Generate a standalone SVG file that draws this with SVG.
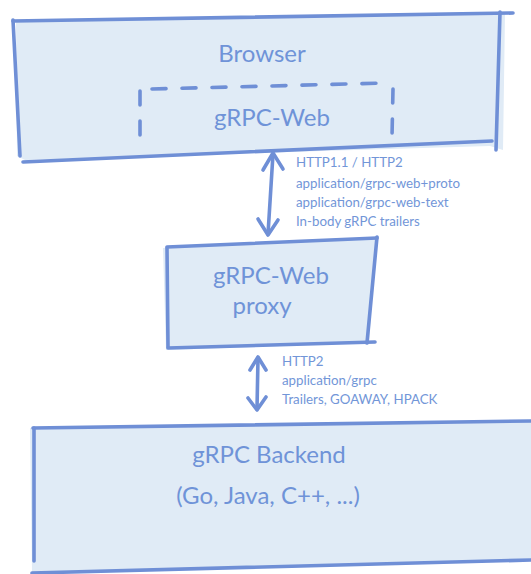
<svg xmlns="http://www.w3.org/2000/svg" width="531" height="574" viewBox="0 0 531 574">
<style>
.fill{fill:#e0ebf6;stroke:none}
.ln{fill:none;stroke:#6f8fd6;stroke-width:3.6;stroke-linecap:round;stroke-linejoin:round}
.dash{fill:none;stroke:#6f8fd6;stroke-width:3.6;stroke-linecap:round;stroke-dasharray:14 16}
.big{font-family:Lato,"DejaVu Sans",sans-serif;font-size:24px;fill:#6f93d8;text-anchor:middle}
.sm{font-family:Lato,"DejaVu Sans",sans-serif;font-size:13.3px;fill:#7296d8}
</style>
<g id="browser">
<path class="fill" d="M16,20 L505,14 L503,150 L490,146 L25,160 L17,156 Z"/>
<path class="ln" d="M13,21 L513,13"/>
<path class="ln" d="M13,20 L20,156"/>
<path class="ln" d="M500,12 L496,150"/>
<path class="ln" d="M23,162 L492,141"/>
<text class="big" x="262" y="62">Browser</text>
</g>
<g id="grpcweb">
<path class="dash" d="M152,89 L387,83"/>
<path class="dash" d="M140,91 L140,145"/>
<path class="dash" d="M393,89 L392,137"/>
<text class="big" x="272" y="126">gRPC-Web</text>
</g>
<g id="proxy">
<path class="fill" d="M163,248 L376,238 L369,343 L166,350 Z"/>
<path class="ln" d="M167,247 L377,238"/>
<path class="ln" d="M167,248 L168,347"/>
<path class="ln" d="M377,237 L367,343"/>
<path class="ln" d="M168,348 L375,342"/>
<text class="big" x="271" y="284">gRPC-Web</text>
<text class="big" x="262" y="314">proxy</text>
</g>
<g id="backend">
<path class="fill" d="M30,428 L531,420 L531,561 L32,572 Z"/>
<path class="ln" d="M33,428 L531,421"/>
<path class="ln" d="M34,428 L34,561"/>
<path class="ln" d="M32,573 L531,560"/>
<text class="big" x="269" y="463">gRPC Backend</text>
<text class="big" x="268" y="504">(Go, Java, C++, ...)</text>
</g>
<g id="connectors">
<path class="ln" d="M273,154 L268,234"/>
<path class="ln" d="M263,170 L273,153 L283,169"/>
<path class="ln" d="M258,219 L268,235 L278,220"/>
<path class="ln" d="M258,358 L257,409"/>
<path class="ln" d="M250,370 L258,357 L266,370"/>
<path class="ln" d="M248,398 L257,410 L266,397"/>
</g>
<g id="labels">
<text class="sm" x="296" y="167">HTTP1.1 / HTTP2</text>
<text class="sm" x="296" y="188">application/grpc-web+proto</text>
<text class="sm" x="296" y="207">application/grpc-web-text</text>
<text class="sm" x="296" y="226">In-body gRPC trailers</text>
<text class="sm" x="282" y="366">HTTP2</text>
<text class="sm" x="282" y="385">application/grpc</text>
<text class="sm" x="282" y="404">Trailers, GOAWAY, HPACK</text>
</g>
</svg>
